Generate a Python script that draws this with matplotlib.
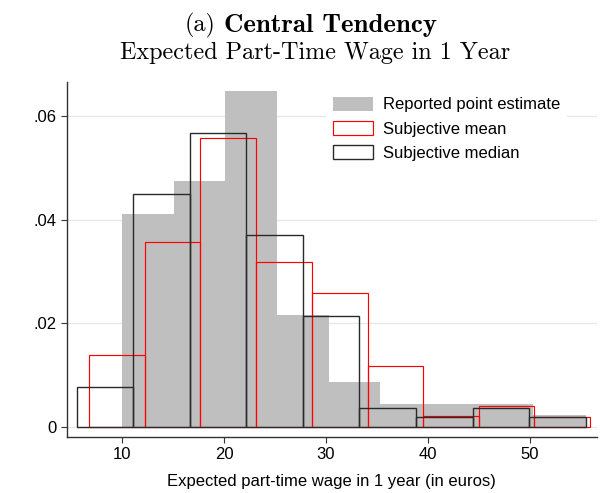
import matplotlib.pyplot as plt
from matplotlib.patches import Patch

# bin edges and densities for each of the three histograms
pointEdges = [10.0, 15.1, 20.1, 25.17, 30.26, 35.29, 40.29, 45.29, 50.29, 55.49]
pointDens = [0.0411, 0.0475, 0.0649, 0.0216, 0.0086, 0.0044, 0.0044, 0.0044, 0.0023]

meanEdges = [6.79, 12.25, 17.68, 23.14, 28.60, 34.09, 39.48, 45.0, 50.42, 55.88]
meanDens = [0.0139, 0.0357, 0.0557, 0.0318, 0.0258, 0.0118, 0.0021, 0.0040, 0.0019]

medianEdges = [5.56, 11.08, 16.64, 22.16, 27.72, 33.26, 38.82, 44.44, 49.93, 55.49]
medianDens = [0.0077, 0.0449, 0.0567, 0.0370, 0.0214, 0.0037, 0.0018, 0.0037, 0.0018]

xTicks = [10, 20, 30, 40, 50]
yTicks = [0, 0.02, 0.04, 0.06]
yTickLabels = ["0", ".02", ".04", ".06"]

SANS = "Liberation Sans"
GRAY = "#bfbfbf"
DARK = "#2a2a2a"


def histBars(ax, edges, dens, **kw):
	lefts = edges[:-1]
	widths = [edges[i+1] - edges[i] for i in range(len(dens))]
	ax.bar(lefts, dens, width=widths, align='edge', **kw)


fig = plt.figure(figsize=(6, 4.93), dpi=100)
ax = fig.add_axes([66.7/600, 1-436.7/493, (597-66.7)/600, (436.7-82)/493])

ax.set_axisbelow(True)
ax.grid(True, axis='y', color='#e8e8e8', linewidth=1.0)

histBars(ax, pointEdges, pointDens, color=GRAY, edgecolor='none', linewidth=0)
histBars(ax, meanEdges, meanDens, fill=False, edgecolor='red', linewidth=0.85)
histBars(ax, medianEdges, medianDens, fill=False, edgecolor=DARK, linewidth=1.0)

ax.set_xlim(4.58, 56.57)
ax.set_ylim(-0.00193, 0.0666)

ax.set_xticks(xTicks)
ax.set_xticklabels([str(t) for t in xTicks], fontfamily=SANS, fontsize=12)
ax.set_yticks(yTicks)
ax.set_yticklabels(yTickLabels, fontfamily=SANS, fontsize=12)
ax.tick_params(axis='both', direction='out', length=4.5, width=0.8, color='#333333', pad=3)

for side in ['top', 'right']:
	ax.spines[side].set_visible(False)
for side in ['left', 'bottom']:
	ax.spines[side].set_color('#333333')
	ax.spines[side].set_linewidth(1.0)

ax.set_xlabel("Expected part-time wage in 1 year (in euros)", fontfamily=SANS, fontsize=12, labelpad=8.5)

handles = [
	Patch(facecolor=GRAY, edgecolor='none'),
	Patch(facecolor='white', edgecolor='red', linewidth=0.85),
	Patch(facecolor='white', edgecolor=DARK, linewidth=1.0),
]
labels = ["Reported point estimate", "Subjective mean", "Subjective median"]
leg = ax.legend(handles, labels, loc='upper left', bbox_to_anchor=(326/600, 1-90/493),
	bbox_transform=fig.transFigure, prop={'family': SANS, 'size': 12},
	handlelength=2.4, handleheight=0.9, handletextpad=0.6, labelspacing=0.52,
	borderpad=0.4, borderaxespad=0, frameon=True, fancybox=False)
leg.get_frame().set_facecolor('white')
leg.get_frame().set_edgecolor('none')
leg.get_frame().set_alpha(1)

# two-line header: panel letter plus bold heading, then subtitle
fig.text(185/600, 1-31.7/493, "(a)", fontfamily='cmr10', fontsize=17.4, ha='left', va='baseline')
fig.text(224/600, 1-31.7/493, "Central Tendency", fontfamily='cmb10', fontsize=19.4, ha='left', va='baseline')
fig.text(315/600, 1-59.3/493, "Expected Part-Time Wage in 1 Year", fontfamily='cmr10', fontsize=17.4,
	ha='center', va='baseline')

plt.savefig("out.png", dpi=100)
